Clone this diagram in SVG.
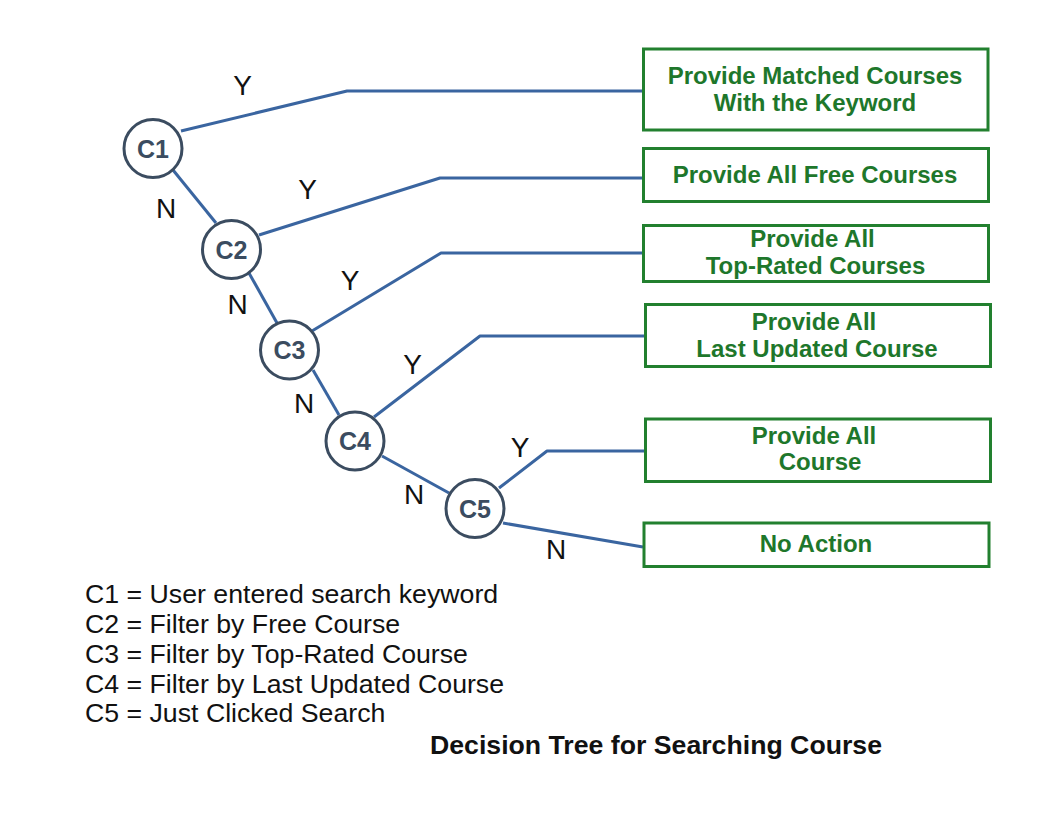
<svg xmlns="http://www.w3.org/2000/svg" width="1056" height="816" viewBox="0 0 1056 816">
<style>
.edge{fill:none;stroke:#3a65a0;stroke-width:3;stroke-linejoin:round}
.node circle{fill:#fff;stroke:#3b4c60;stroke-width:3}
.node text{font-family:"Liberation Sans",Arial,sans-serif;font-weight:bold;font-size:25px;fill:#3b4c60;text-anchor:middle}
.box rect{fill:#fff;stroke:#22802f;stroke-width:3}
.box text{font-family:"Liberation Sans",Arial,sans-serif;font-weight:bold;font-size:24px;fill:#1e772b;text-anchor:middle}
.lbl{font-family:"Liberation Sans",Arial,sans-serif;font-size:28px;fill:#111;text-anchor:middle}
.legend{font-family:"Liberation Sans",Arial,sans-serif;font-size:26.7px;fill:#111}
.title{font-family:"Liberation Sans",Arial,sans-serif;font-weight:bold;font-size:25px;fill:#111}
</style>
<rect width="1056" height="816" fill="#fff"/>
<g id="connectors">
<polyline class="edge" points="181,131 347,91 645,91"/>
<polyline class="edge" points="259,235 440,178 643,178"/>
<polyline class="edge" points="312,331 441,253 643,253"/>
<polyline class="edge" points="374,417 480,336 645,336"/>
<polyline class="edge" points="499,488 547,451 645,451"/>
<line class="edge" x1="503" y1="523" x2="643" y2="547"/>
<line class="edge" x1="173" y1="170" x2="216" y2="223"/>
<line class="edge" x1="249" y1="273" x2="277" y2="323"/>
<line class="edge" x1="313" y1="370" x2="339" y2="415"/>
<line class="edge" x1="382" y1="456" x2="449" y2="493"/>
</g>
<g id="edge-labels">
<text class="lbl" x="242.5" y="95">Y</text>
<text class="lbl" x="166" y="218">N</text>
<text class="lbl" x="307.5" y="199">Y</text>
<text class="lbl" x="237.5" y="314">N</text>
<text class="lbl" x="350" y="290">Y</text>
<text class="lbl" x="304" y="413">N</text>
<text class="lbl" x="412.5" y="374">Y</text>
<text class="lbl" x="414" y="504">N</text>
<text class="lbl" x="520" y="457">Y</text>
<text class="lbl" x="556" y="559">N</text>
</g>
<g id="C1" class="node"><circle cx="153" cy="148.5" r="29"/><text x="153" y="157.5">C1</text></g>
<g id="C2" class="node"><circle cx="231.5" cy="249.5" r="29"/><text x="231.5" y="258.5">C2</text></g>
<g id="C3" class="node"><circle cx="289.5" cy="350" r="29"/><text x="289.5" y="359">C3</text></g>
<g id="C4" class="node"><circle cx="355" cy="441" r="29"/><text x="355" y="450">C4</text></g>
<g id="C5" class="node"><circle cx="475" cy="508.5" r="29"/><text x="475" y="517.5">C5</text></g>
<g id="box-keyword" class="box"><rect x="643.5" y="49" width="344.5" height="81"/><text x="815" y="84">Provide Matched Courses</text><text x="815" y="111">With the Keyword</text></g>
<g id="box-free" class="box"><rect x="643.5" y="148.5" width="345" height="53"/><text x="815" y="183">Provide All Free Courses</text></g>
<g id="box-top" class="box"><rect x="643.5" y="225.5" width="345" height="56"/><text x="812.5" y="247">Provide All</text><text x="815.5" y="273.5">Top-Rated Courses</text></g>
<g id="box-updated" class="box"><rect x="645.5" y="304.5" width="345" height="62"/><text x="814" y="330">Provide All</text><text x="817" y="356.5">Last Updated Course</text></g>
<g id="box-all" class="box"><rect x="645.5" y="419" width="345" height="62.5"/><text x="814" y="444">Provide All</text><text x="820" y="470">Course</text></g>
<g id="box-none" class="box"><rect x="644" y="523" width="345" height="43.5"/><text x="816" y="552">No Action</text></g>
<g id="legend">
<text class="legend" x="85" y="603">C1 = User entered search keyword</text>
<text class="legend" x="85" y="633">C2 = Filter by Free Course</text>
<text class="legend" x="85" y="663">C3 = Filter by Top-Rated Course</text>
<text class="legend" x="85" y="692.5">C4 = Filter by Last Updated Course</text>
<text class="legend" x="85" y="722">C5 = Just Clicked Search</text>
</g>
<text class="title" x="430" y="753.5" textLength="452" lengthAdjust="spacingAndGlyphs">Decision Tree for Searching Course</text>
</svg>
